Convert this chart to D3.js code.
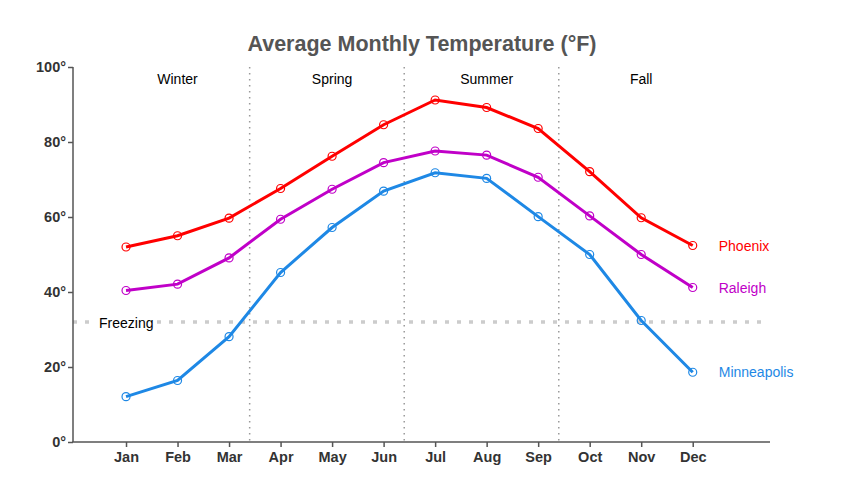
<!DOCTYPE html>
<html><head><meta charset="utf-8">
<script src="https://cdn.jsdelivr.net/npm/d3@7"></script>
<style>body{margin:0;background:#fff;font-family:"Liberation Sans",Arial,sans-serif;}</style>
</head><body>
<svg id="c" width="850" height="500"></svg>
<script>
const months = ["Jan","Feb","Mar","Apr","May","Jun","Jul","Aug","Sep","Oct","Nov","Dec"];
const phoenix = [52.0, 55.0, 59.7, 67.6, 76.2, 84.6, 91.2, 89.2, 83.6, 72.1, 59.8, 52.4];
const raleigh = [40.4, 42.1, 49.1, 59.4, 67.4, 74.5, 77.6, 76.5, 70.6, 60.3, 50.0, 41.2];
const minneapolis = [12.1, 16.4, 28.1, 45.2, 57.2, 66.9, 71.8, 70.3, 60.1, 50.0, 32.4, 18.6];
const seriesNames = ["Phoenix","Raleigh","Minneapolis"];
const seriesColors = ["#ff0000","#c000c8","#1e88e5"];
const seasons = ["Winter","Spring","Summer","Fall"];
const seasonCenters = [2, 5, 8, 11];
const seasonBreaks = [3.4, 6.4, 9.4];
const yTicks = [0, 20, 40, 60, 80, 100];
const freezing = 32;

const svg = d3.select("#c");
const x = d3.scaleLinear().domain([0, 13.5]).range([74.5, 770]);
const y = d3.scaleLinear().domain([0, 100]).range([442, 67]);

svg.append("text").attr("x", 422).attr("y", 51).attr("text-anchor","middle")
  .attr("font-size", 21.5).attr("font-weight","bold").attr("fill","#555")
  .text("Average Monthly Temperature (°F)");

// season dividers
svg.append("g").selectAll("line").data(seasonBreaks).join("line")
  .attr("x1", d=>x(d)).attr("x2", d=>x(d)).attr("y1", y(100)).attr("y2", y(0))
  .attr("stroke","#999").attr("stroke-width",1.5).attr("stroke-dasharray","1.5,4.5");
svg.append("g").selectAll("text").data(seasons).join("text")
  .attr("x",(d,i)=>x(seasonCenters[i])).attr("y", 84).attr("text-anchor","middle")
  .attr("font-size",14).attr("fill","#000").text(d=>d);

// freezing
svg.append("line").attr("x1",73).attr("x2",766).attr("y1",y(freezing)).attr("y2",y(freezing))
  .attr("stroke","#ccc").attr("stroke-width",3.5).attr("stroke-dasharray","4,8");
svg.append("rect").attr("x",95).attr("y",y(freezing)-8).attr("width",62).attr("height",16).attr("fill","#fff");
svg.append("text").attr("x",99).attr("y",y(freezing)+6).attr("font-size",14).attr("fill","#000").text("Freezing");

// axes
const yAxis = svg.append("g").attr("transform","translate(73,0)")
  .call(d3.axisLeft(y).tickValues(yTicks).tickSize(5).tickFormat(d=>d+"°"));
const xAxis = svg.append("g").attr("transform","translate(0,442)")
  .call(d3.axisBottom(x).tickValues(d3.range(1,13)).tickSize(5).tickFormat(d=>months[d-1]));
[yAxis, xAxis].forEach(g=>{
  g.select(".domain").attr("stroke","#555").attr("stroke-width",1.5);
  g.selectAll(".tick line").attr("stroke","#555").attr("stroke-width",1.5);
  g.selectAll(".tick text").attr("fill","#333").attr("font-size",14.5).attr("font-weight","bold")
    .attr("font-family","Liberation Sans, Arial, sans-serif");
});
xAxis.select(".domain").attr("d","M72.25,0H770");
yAxis.select(".domain").attr("d","M0,67V442");
yAxis.selectAll(".tick text").attr("x",-7);
xAxis.selectAll(".tick text").attr("dy","0.85em");

const data = [phoenix, raleigh, minneapolis];
const line = d3.line().x((d,i)=>x(i+1)).y(d=>y(d));
data.forEach((vals, s)=>{
  const g = svg.append("g");
  g.append("path").attr("d", line(vals)).attr("fill","none")
    .attr("stroke", seriesColors[s]).attr("stroke-width",3);
  g.selectAll("circle").data(vals).join("circle")
    .attr("cx",(d,i)=>x(i+1)).attr("cy",d=>y(d)).attr("r",4)
    .attr("fill","none").attr("stroke",seriesColors[s]).attr("stroke-width",1.2);
  g.append("text").attr("x", x(12)+26).attr("y", y(vals[11])+5)
    .attr("font-size",14).attr("fill",seriesColors[s]).text(seriesNames[s]);
});
</script>
</body></html>
